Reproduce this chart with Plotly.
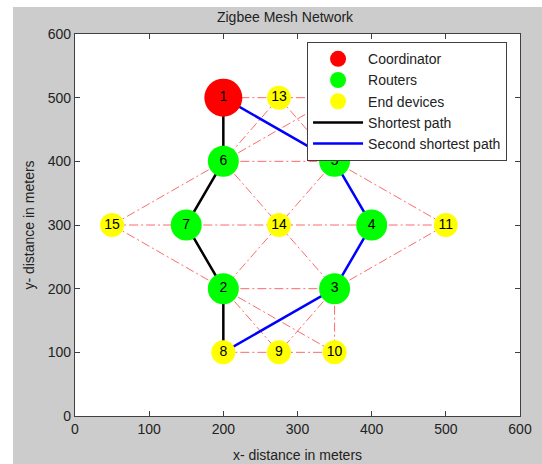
import plotly.graph_objects as go

# posicoes dos nos (m)
node_id = list(range(1, 16))
node_x = [200, 200, 350, 400, 350, 200, 150, 200, 275, 350, 500, 350, 275, 275, 50]
node_y = [500, 200, 200, 300, 400, 400, 300, 100, 100, 100, 300, 500, 500, 300, 300]

coord_nodes = [1]
router_nodes = [2, 3, 4, 5, 6, 7]
end_nodes = [8, 9, 10, 11, 12, 13, 14, 15]

# ligacoes da malha
links = [(1, 13), (13, 12), (13, 6), (12, 6), (13, 5), (12, 5), (6, 5),
         (6, 15), (6, 14), (5, 14), (5, 11), (15, 7), (7, 14), (14, 4),
         (4, 11), (15, 2), (14, 2), (14, 3), (11, 3), (2, 3), (2, 9),
         (2, 10), (3, 9), (3, 10), (8, 9), (9, 10)]

shortest = [1, 6, 7, 2, 8]
second = [1, 5, 4, 3, 8]


def pos(n):
    return node_x[n - 1], node_y[n - 1]


ex, ey = [], []
for a, b in links:
    xa, ya = pos(a)
    xb, yb = pos(b)
    ex += [xa, xb, None]
    ey += [ya, yb, None]

fig = go.Figure()
fig.add_trace(go.Scatter(x=ex, y=ey, mode='lines', showlegend=False, hoverinfo='skip',
                         line=dict(color='#ff6a6a', width=1, dash='9px,3px,2px,3px')))
fig.add_trace(go.Scatter(x=[pos(n)[0] for n in shortest], y=[pos(n)[1] for n in shortest],
                         mode='lines', name='Shortest path', legendrank=4,
                         line=dict(color='black', width=2.5)))
fig.add_trace(go.Scatter(x=[pos(n)[0] for n in second], y=[pos(n)[1] for n in second],
                         mode='lines', name='Second shortest path', legendrank=5,
                         line=dict(color='blue', width=2.5)))

grupos = [('Coordinator', coord_nodes, 'red', 38, 1),
          ('Routers', router_nodes, 'lime', 31, 2),
          ('End devices', end_nodes, 'yellow', 24, 3)]
for nome, nos, cor, tam, rk in grupos:
    fig.add_trace(go.Scatter(x=[pos(n)[0] for n in nos], y=[pos(n)[1] for n in nos],
                             mode='markers', name=nome, legendrank=rk,
                             marker=dict(color=cor, size=tam, line=dict(width=0))))

fig.add_trace(go.Scatter(x=node_x, y=node_y, mode='text', text=[str(n) for n in node_id],
                         textposition='middle center', showlegend=False,
                         textfont=dict(color='black', size=14, family='Liberation Sans')))

eixo = dict(range=[0, 600], dtick=100, ticks='inside', ticklen=5, tickcolor='#404040',
            showline=True, linecolor='#404040', linewidth=1.2, mirror='ticks',
            showgrid=False, zeroline=False, automargin=False,
            tickfont=dict(size=14, color='#222222', family='Liberation Sans'))
fig.update_xaxes(**eixo, title=dict(text='x- distance in meters', standoff=14,
                                    font=dict(size=14, color='#222222')))
fig.update_yaxes(**eixo, title=dict(text='y- distance in meters', standoff=9,
                                    font=dict(size=14, color='#222222')))

# bordas brancas fora da figura cinza
fig.add_shape(type='rect', xref='paper', yref='paper', x0=-0.3, x1=(13 - 75) / 445,
              y0=-0.5, y1=1.5, fillcolor='white', line_width=0, layer='below')
fig.add_shape(type='rect', xref='paper', yref='paper', x0=-0.3, x1=1.3,
              y0=(416 - 7) / 382, y1=1.5, fillcolor='white', line_width=0, layer='below')

fig.update_layout(width=542, height=464, autosize=False,
                  margin=dict(l=75, r=22, t=34, b=48),
                  paper_bgcolor='#cccccc', plot_bgcolor='white',
                  font=dict(family='Liberation Sans', size=14, color='#222222'),
                  title=dict(text='Zigbee Mesh Network', x=0.472, xref='paper', xanchor='center',
                             y=1 - 17 / 464, yanchor='middle', font=dict(size=14)),
                  legend=dict(x=0.521, y=0.979, xanchor='left', yanchor='top',
                              bgcolor='white', bordercolor='#404040', borderwidth=1.2,
                              itemwidth=50, tracegroupgap=0,
                              font=dict(size=14, color='#222222')),
                  showlegend=True)

fig.write_html("out.html", config={'displayModeBar': False},
               post_script="document.body.style.margin='0px';"
                           "document.body.style.background='#cccccc';"
                           "document.documentElement.style.overflow='hidden';")
